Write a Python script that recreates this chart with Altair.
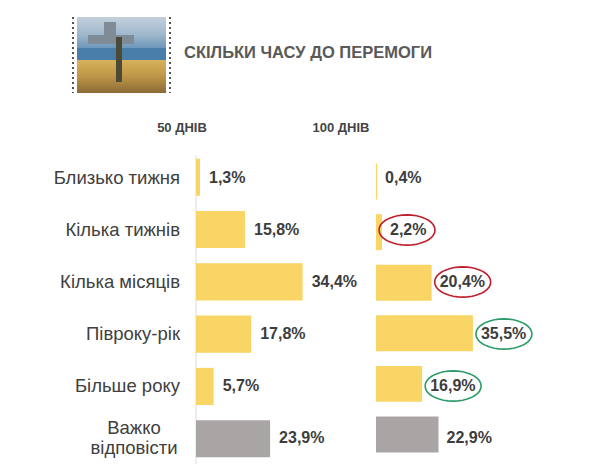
import math
import altair as alt
import pandas as pd

# ---- data ----
categories = ["Близько тижня", "Кілька тижнів", "Кілька місяців",
              "Півроку-рік", "Більше року", "Важко відповісти"]
values_50 = [1.3, 15.8, 34.4, 17.8, 5.7, 23.9]
values_100 = [0.4, 2.2, 20.4, 35.5, 16.9, 22.9]
kinds = ["answer", "answer", "answer", "answer", "answer", "hard"]
rings_100 = ["", "red", "red", "green", "green", ""]
headers = ["50 ДНІВ", "100 ДНІВ"]
title_text = "СКІЛЬКИ ЧАСУ ДО ПЕРЕМОГИ"


def fmt(v):
    return f"{v:.1f}".replace(".", ",") + "%"


df = pd.DataFrame({
    "cat": categories,
    "v50": values_50,
    "v100": values_100,
    "l50": [fmt(v) for v in values_50],
    "l100": [fmt(v) for v in values_100],
    "kind": kinds,
    "ring": rings_100,
    "disp": [c if c != "Важко відповісти" else "Важко\nвідповісти" for c in categories],
})
one = pd.DataFrame({"k": [0]})

FONT = "Liberation Sans"
YELLOW = "#F9D565"
GRAY = "#A9A5A5"
TXT = "#3d3d3d"

W, H = 344, 312
xL = alt.Scale(domain=[0, W / 3.1], nice=False, zero=False)
xR = alt.Scale(domain=[-180 / 2.73, (W - 180) / 2.73], nice=False, zero=False)
yL = alt.Scale(domain=categories, paddingInner=0.29, paddingOuter=0.128)
yR = alt.Scale(domain=categories, paddingInner=0.29, paddingOuter=0.228)
colorS = alt.Scale(domain=["answer", "hard"], range=[YELLOW, GRAY])

base = alt.Chart(df)

axis_line = alt.Chart(one).mark_rule(color="#dcdcdc", strokeWidth=1).encode(
    x=alt.value(0), y=alt.value(3), y2=alt.value(H))

bars50 = base.mark_bar().encode(
    x=alt.X("v50:Q", scale=xL, axis=None),
    y=alt.Y("cat:N", scale=yL, axis=None),
    color=alt.Color("kind:N", scale=colorS, legend=None))

text50 = base.mark_text(align="left", baseline="middle", dx=9, font=FONT,
                        fontSize=16, fontWeight="bold", color=TXT).encode(
    x=alt.X("v50:Q", scale=xL, axis=None),
    y=alt.Y("cat:N", scale=yL, axis=None),
    text="l50:N")

cat_labels = base.transform_filter(alt.datum.kind == "answer").mark_text(
    align="right", baseline="middle", font=FONT, fontSize=18.5, color="#404040").encode(
    x=alt.value(-16),
    y=alt.Y("cat:N", scale=yL, axis=None),
    text="disp:N")

cat_label_hard = base.transform_filter(alt.datum.kind == "hard").mark_text(
    align="center", baseline="middle", font=FONT, fontSize=18.5, color="#404040",
    lineBreak="\n", lineHeight=20, dy=-10).encode(
    x=alt.value(-62),
    y=alt.Y("cat:N", scale=yL, axis=None),
    text="disp:N")

bars100 = base.mark_bar().encode(
    x=alt.X("v100:Q", scale=xR, axis=None),
    y=alt.Y("cat:N", scale=yR, axis=None),
    color=alt.Color("kind:N", scale=colorS, legend=None))

text100 = base.mark_text(align="left", baseline="middle", dx=8, font=FONT,
                         fontSize=16, fontWeight="bold", color=TXT).encode(
    x=alt.X("v100:Q", scale=xR, axis=None),
    y=alt.Y("cat:N", scale=yR, axis=None),
    text="l100:N")

# ellipse shape (unit path)
pts = [(math.cos(math.radians(a)), 0.54 * math.sin(math.radians(a))) for a in range(0, 360, 10)]
ell_path = "M" + " L".join(f"{x:.3f},{y:.3f}" for x, y in pts) + " Z"
ringS = alt.Scale(domain=["red", "green"], range=["#C0202E", "#2E9C6A"])

ring_short = base.transform_filter(
    (alt.datum.ring != "") & (alt.expr.length(alt.datum.l100) == 4)).mark_point(
    shape=ell_path, size=3136, filled=False, strokeWidth=1.6, opacity=1, xOffset=25).encode(
    x=alt.X("v100:Q", scale=xR, axis=None),
    y=alt.Y("cat:N", scale=yR, axis=None),
    stroke=alt.Stroke("ring:N", scale=ringS, legend=None))

ring_long = base.transform_filter(
    (alt.datum.ring != "") & (alt.expr.length(alt.datum.l100) == 5)).mark_point(
    shape=ell_path, size=3136, filled=False, strokeWidth=1.6, opacity=1, xOffset=31).encode(
    x=alt.X("v100:Q", scale=xR, axis=None),
    y=alt.Y("cat:N", scale=yR, axis=None),
    stroke=alt.Stroke("ring:N", scale=ringS, legend=None))

head50 = alt.Chart(one).mark_text(text=headers[0], align="center", baseline="middle",
                                  font=FONT, fontSize=13, fontWeight="bold", color="#444444").encode(
    x=alt.value(-14), y=alt.value(-24))
head100 = alt.Chart(one).mark_text(text=headers[1], align="center", baseline="middle",
                                   font=FONT, fontSize=13, fontWeight="bold", color="#444444").encode(
    x=alt.value(145), y=alt.value(-24))

title = alt.Chart(one).mark_text(text=title_text, align="center", baseline="middle",
                                 font=FONT, fontSize=16.5, fontWeight="bold", color="#595959").encode(
    x=alt.value(112), y=alt.value(-99))

# ---- decorative stamp ----
sky = alt.Chart(one).mark_rect(color=alt.LinearGradient(
    gradient="linear", x1=0, y1=0, x2=0, y2=1,
    stops=[alt.GradientStop(offset=0, color="#c3d0dc"),
           alt.GradientStop(offset=0.5, color="#9fb8cc"),
           alt.GradientStop(offset=1, color="#5d8db5")])).encode(
    x=alt.value(-119), x2=alt.value(-30), y=alt.value(-135), y2=alt.value(-100))
sea = alt.Chart(one).mark_rect(color="#4a7eaa").encode(
    x=alt.value(-119), x2=alt.value(-30), y=alt.value(-104), y2=alt.value(-90))
field = alt.Chart(one).mark_rect(color=alt.LinearGradient(
    gradient="linear", x1=0, y1=0, x2=0, y2=1,
    stops=[alt.GradientStop(offset=0, color="#d7b25a"),
           alt.GradientStop(offset=0.5, color="#bf9648"),
           alt.GradientStop(offset=1, color="#8a6a35")])).encode(
    x=alt.value(-119), x2=alt.value(-30), y=alt.value(-92), y2=alt.value(-59))
hull = alt.Chart(one).mark_rect(color="#7f8b97").encode(
    x=alt.value(-108), x2=alt.value(-62), y=alt.value(-117), y2=alt.value(-108))
tower = alt.Chart(one).mark_rect(color="#7f8b97").encode(
    x=alt.value(-92), x2=alt.value(-80), y=alt.value(-130), y2=alt.value(-116))
soldier = alt.Chart(one).mark_rect(color="#4c4a35").encode(
    x=alt.value(-80), x2=alt.value(-74), y=alt.value(-115), y2=alt.value(-70))
perf_l = alt.Chart(one).mark_rule(color="#555555", strokeWidth=2, strokeDash=[2, 3]).encode(
    x=alt.value(-123), y=alt.value(-135), y2=alt.value(-59))
perf_r = alt.Chart(one).mark_rule(color="#555555", strokeWidth=2, strokeDash=[2, 3]).encode(
    x=alt.value(-26), y=alt.value(-135), y2=alt.value(-59))

chart = alt.layer(
    sky, sea, field, hull, tower, soldier, perf_l, perf_r,
    title, head50, head100,
    axis_line, bars50, text50, cat_labels, cat_label_hard,
    bars100, text100, ring_short, ring_long,
).resolve_scale(x="independent", y="independent", color="shared", stroke="shared").properties(
    width=W, height=H,
    padding={"left": 188, "top": 144, "right": 52, "bottom": 0},
    autosize=alt.AutoSizeParams(type="none"),
    background="white",
).configure_view(stroke=None)

chart.save("out.html", embed_options={"renderer": "svg", "actions": False})
